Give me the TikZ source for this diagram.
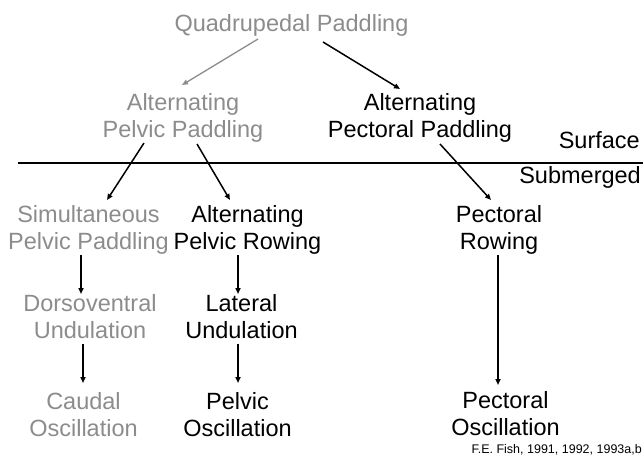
\documentclass[tikz,border=0pt]{standalone}
\usepackage{fontspec}
\setmainfont{Liberation Sans}
\usetikzlibrary{calc,arrows.meta}
\definecolor{lightgray}{RGB}{140,140,140}
\begin{document}
\begin{tikzpicture}[x=1pt,y=-1pt,
  lbl/.style={anchor=north,align=center,inner sep=0pt,font=\fontsize{23.5}{27.5}\selectfont},
  gr/.style={text=lightgray},
  arr/.style={line width=1.5pt,-{Triangle[length=6pt,width=5pt]}},
  garr/.style={arr,draw=lightgray,line width=1.3pt}]
\useasboundingbox (0,0) rectangle (643,461);
% nodes
\node[lbl,gr] (q) at (291.5,14) {Quadrupedal Paddling};
\node[lbl,gr] (ap) at (183,93) {Alternating\\Pelvic Paddling};
\node[lbl] (apc) at (420,93) {Alternating\\Pectoral Paddling};
\node[lbl,gr] (sp) at (88.5,205) {Simultaneous\\Pelvic Paddling};
\node[lbl] (apr) at (247.5,205) {Alternating\\Pelvic Rowing};
\node[lbl] (pr) at (499,205) {Pectoral\\Rowing};
\node[lbl,gr] (dv) at (90,294) {Dorsoventral\\Undulation};
\node[lbl] (lu) at (241.5,294) {Lateral\\Undulation};
\node[lbl,gr] (co) at (83.5,392) {Caudal\\Oscillation};
\node[lbl] (po) at (237.5,392) {Pelvic\\Oscillation};
\node[lbl] (pco) at (505.5,391) {Pectoral\\Oscillation};
\node[anchor=base east,inner sep=0pt,font=\fontsize{23.5}{27.5}\selectfont] (surf) at (640,148) {Surface};
\node[anchor=base east,inner sep=0pt,font=\fontsize{23.5}{27.5}\selectfont] (subm) at (641,183) {Submerged};
\node[anchor=base east,inner sep=0pt,font=\fontsize{12.5}{14}\selectfont] (cred) at (642,453) {F.E. Fish, 1991, 1992, 1993a,b};
% surface line
\coordinate (lineL) at (18,163);
\coordinate (lineR) at (643,163);
\draw[line width=2pt] (lineL) -- (lineR);
% connectors
\draw[garr] ($(q.north)+(-33.5,25)$) -- ($(ap.north)+(-1,-8)$);
\draw[arr] ($(q.north)+(31.5,28)$) -- ($(apc.north)+(-20,-4)$);
\draw[arr] ($(ap.north)+(-39,50)$) -- ($(sp.north)+(18.5,-5)$);
\draw[arr] ($(ap.north)+(14,51)$) -- ($(apr.north)+(-17.5,-5)$);
\draw[arr] ($(apc.north)+(20,51)$) -- ($(pr.north)+(-8,-5)$);
\draw[arr] ($(sp.north)+(-7.5,50)$) -- ($(dv.north)+(-9,0)$);
\draw[arr] ($(dv.north)+(-7,50)$) -- ($(co.north)+(-0.5,-9)$);
\draw[arr] ($(apr.north)+(-9.5,50)$) -- ($(lu.north)+(-3.5,0)$);
\draw[arr] ($(lu.north)+(-3.5,50)$) -- ($(po.north)+(0.5,-9)$);
\draw[arr] ($(pr.north)+(-1,50)$) -- ($(pco.north)+(-7.5,-6)$);
\end{tikzpicture}
\end{document}
